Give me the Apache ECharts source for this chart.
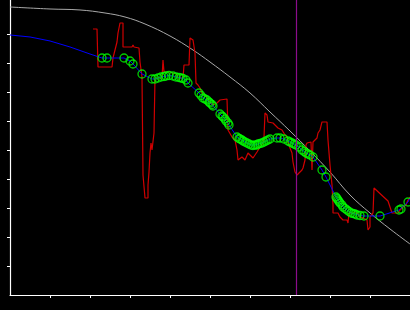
<!DOCTYPE html>
<html>
<head>
<meta charset="utf-8">
<script src="https://cdn.jsdelivr.net/npm/echarts@6/dist/echarts.min.js"></script>
<style>html,body{margin:0;padding:0;background:#000;}#c{width:410px;height:310px;}</style>
</head>
<body>
<div id="c"></div>
<script>
// Gray reference curve
var grayX = [0, 1, 1.75, 2.375, 2.875, 3.375, 4.0, 4.575, 5.0, 5.5, 6.0, 6.5, 7.0, 7.5, 8.0, 8.5, 9.0, 9.5, 10.0];
var grayY = [9.931, 9.862, 9.828, 9.724, 9.586, 9.345, 8.931, 8.448, 8.034, 7.517, 6.966, 6.310, 5.655, 4.966, 4.241, 3.448, 2.828, 2.276, 1.759];

// Red noisy measurement
var redX = [2.075, 2.175, 2.2, 2.55, 2.575, 2.625, 2.675, 2.7, 2.75, 2.825, 2.825, 3.05, 3.075, 3.1, 3.225, 3.25, 3.3, 3.325, 3.325, 3.375, 3.375, 3.45, 3.45, 3.475, 3.475, 3.5, 3.5, 3.525, 3.525, 3.55, 3.55, 3.6, 3.6, 3.625, 3.625, 3.8, 3.825, 3.85, 3.85, 4.0, 4.075, 4.175, 4.2, 4.325, 4.35, 4.475, 4.5, 4.55, 4.575, 4.625, 4.65, 4.7, 4.75, 4.8, 4.875, 5.0, 5.075, 5.175, 5.25, 5.425, 5.45, 5.5, 5.55, 5.625, 5.675, 5.7, 5.8, 5.875, 5.95, 6.0, 6.075, 6.175, 6.25, 6.325, 6.35, 6.375, 6.425, 6.45, 6.5, 6.575, 6.625, 6.7, 6.8, 6.875, 6.925, 6.95, 7.0, 7.05, 7.075, 7.125, 7.175, 7.25, 7.3, 7.325, 7.375, 7.4, 7.425, 7.525, 7.55, 7.575, 7.625, 7.675, 7.7, 7.75, 7.8, 7.925, 7.95, 8.0, 8.05, 8.075, 8.075, 8.2, 8.25, 8.325, 8.425, 8.45, 8.475, 8.675, 8.75, 8.825, 8.925, 8.95, 9.0, 9.0, 9.075, 9.1, 9.45, 9.5, 9.55, 9.7, 9.75, 9.825, 9.9, 9.95, 10.0];
var redY = [9.172, 9.172, 7.862, 7.862, 8.172, 8.448, 8.724, 9.034, 9.379, 9.379, 8.552, 8.552, 8.621, 8.552, 8.517, 8.034, 7.517, 7.517, 4.138, 4.138, 3.345, 3.345, 3.793, 3.793, 4.241, 4.241, 4.897, 4.897, 5.241, 5.241, 5.0, 5.0, 5.586, 5.586, 7.483, 7.483, 8.103, 8.103, 7.690, 7.690, 7.655, 7.621, 7.483, 7.483, 7.931, 7.931, 8.862, 8.862, 8.793, 8.345, 7.310, 7.241, 7.138, 6.966, 6.897, 6.655, 6.552, 6.621, 6.724, 6.759, 5.690, 5.690, 5.448, 5.345, 5.0, 4.655, 4.759, 4.655, 4.897, 4.828, 4.724, 4.931, 5.103, 5.241, 5.448, 6.276, 6.207, 5.966, 6.034, 5.931, 5.931, 5.759, 5.690, 5.517, 5.448, 5.276, 5.069, 4.897, 4.586, 4.241, 4.138, 4.241, 4.310, 4.379, 4.655, 5.172, 5.241, 5.276, 4.310, 5.276, 5.276, 5.414, 5.586, 5.690, 5.966, 5.966, 5.345, 4.483, 3.793, 3.103, 2.828, 2.828, 2.690, 2.586, 2.586, 2.483, 2.828, 2.828, 2.690, 2.655, 2.586, 2.241, 2.345, 2.690, 2.828, 3.690, 3.241, 3.034, 2.828, 2.828, 2.931, 3.034, 3.103, 3.276, 3.379];

// Blue fitted line: leading part without markers
var blueLeadX = [0, 0.5, 1.0, 1.5, 2.0];
var blueLeadY = [8.966, 8.897, 8.759, 8.552, 8.310];
var blueTailX = [10.0];
var blueTailY = [3.345];

// Green markers (also on the blue line)
var markX = [2.3, 2.425, 2.85, 3.0, 3.075, 3.3, 3.55, 3.625, 3.7, 3.775, 3.85, 3.9, 3.975, 4.075, 4.15, 4.225, 4.275, 4.325, 4.4, 4.45, 4.725, 4.775, 4.825, 4.875, 4.925, 4.975, 5.0, 5.05, 5.075, 5.25, 5.3, 5.325, 5.375, 5.4, 5.45, 5.475, 5.675, 5.725, 5.75, 5.8, 5.825, 5.875, 5.925, 5.975, 6.025, 6.075, 6.125, 6.175, 6.2, 6.25, 6.3, 6.35, 6.4, 6.45, 6.5, 6.675, 6.75, 6.85, 6.95, 7.0, 7.05, 7.1, 7.15, 7.225, 7.3, 7.35, 7.4, 7.45, 7.5, 7.575, 7.8, 7.9, 8.15, 8.175, 8.2, 8.225, 8.25, 8.3, 8.325, 8.375, 8.425, 8.475, 8.525, 8.575, 8.625, 8.675, 8.75, 8.85, 9.25, 9.725, 9.775, 9.95];
var markY = [8.172, 8.172, 8.172, 8.069, 7.966, 7.621, 7.448, 7.448, 7.483, 7.517, 7.534, 7.552, 7.569, 7.552, 7.517, 7.5, 7.483, 7.466, 7.414, 7.310, 6.966, 6.879, 6.793, 6.759, 6.724, 6.655, 6.621, 6.569, 6.517, 6.241, 6.172, 6.138, 6.069, 6.0, 5.931, 5.862, 5.448, 5.397, 5.379, 5.345, 5.310, 5.276, 5.241, 5.207, 5.172, 5.155, 5.172, 5.172, 5.207, 5.224, 5.241, 5.276, 5.310, 5.345, 5.379, 5.414, 5.414, 5.379, 5.310, 5.276, 5.241, 5.207, 5.172, 5.103, 5.0, 4.948, 4.897, 4.862, 4.828, 4.759, 4.310, 4.069, 3.379, 3.328, 3.276, 3.224, 3.172, 3.103, 3.034, 2.983, 2.931, 2.879, 2.828, 2.810, 2.793, 2.759, 2.741, 2.724, 2.724, 2.931, 2.966, 3.207];

var vLineX = 7.15;
var tickVals = [1, 2, 3, 4, 5, 6, 7, 8, 9];

function zip(xs, ys) { return xs.map(function (x, i) { return [x, ys[i]]; }); }

var blueData = zip(blueLeadX, blueLeadY).concat(zip(markX, markY)).concat(zip(blueTailX, blueTailY));

var chart = echarts.init(document.getElementById('c'), null, { renderer: 'canvas' });
var axisCommon = {
  type: 'value',
  axisLine: { show: true, lineStyle: { color: '#ffffff', width: 1.2 } },
  axisTick: { show: true, inside: false, length: 3, lineStyle: { color: '#ffffff', width: 1 }, customValues: tickVals },
  axisLabel: { show: false },
  splitLine: { show: false }
};
chart.setOption({
  backgroundColor: '#000000',
  animation: false,
  grid: { left: 10, right: 0, top: 0, bottom: 15 },
  xAxis: Object.assign({}, axisCommon, { min: 0, max: 10, interval: 1 }),
  yAxis: Object.assign({}, axisCommon, { min: 0, max: 10.172, interval: 1 }),
  series: [
    { type: 'line', data: zip(grayX, grayY), smooth: 0.4, showSymbol: false, symbol: 'none',
      lineStyle: { color: '#a8a8a8', width: 1 }, z: 1 },
    { type: 'line', data: zip(redX, redY), showSymbol: false, symbol: 'none',
      lineStyle: { color: '#d00000', width: 1.2 }, z: 2,
      markLine: { silent: true, symbol: 'none', label: { show: false },
        lineStyle: { color: '#8c0c8c', width: 1.2, type: 'solid' },
        data: [{ xAxis: vLineX }] } },
    { type: 'line', data: blueData, showSymbol: false, symbol: 'none',
      lineStyle: { color: '#0000ff', width: 1 }, z: 3 },
    { type: 'scatter', data: zip(markX, markY), symbol: 'circle', symbolSize: 8,
      itemStyle: { color: 'rgba(0,0,0,0)', borderColor: '#00ff00', borderWidth: 1.3 }, z: 4 }
  ]
});
</script>
</body>
</html>
